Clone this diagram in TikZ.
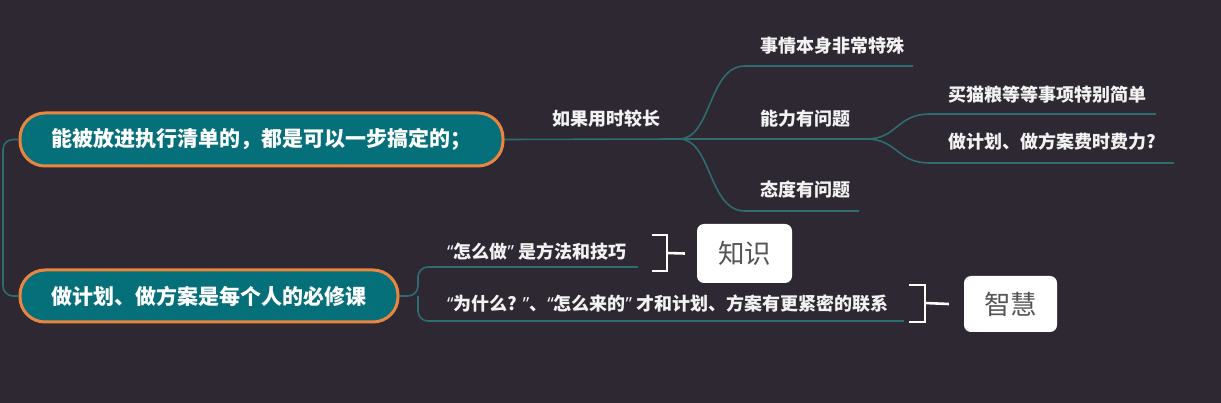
\documentclass[tikz,border=0pt]{standalone}
\usepackage{fontspec}
\setmainfont{Noto Sans CJK SC}
\newfontfamily\quotefont{Noto Sans}
\newcommand{\openq}{{\quotefont “}}
\newcommand{\closeq}{{\quotefont ”}}
\definecolor{bg}{HTML}{2D2832}
\definecolor{topicfill}{HTML}{06707A}
\definecolor{topicline}{HTML}{E9853F}
\definecolor{branchline}{HTML}{2F6C6F}
\definecolor{boxtext}{HTML}{555555}
\begin{document}
\begin{tikzpicture}[x=1pt, y=-1pt,
  topic/.style={draw=topicline, fill=topicfill, line width=3pt, rounded corners=25pt, text=white, font=\fontsize{21}{22}\selectfont\bfseries, inner sep=0pt},
  branch/.style={draw=branchline, line width=1.6pt},
  leaf/.style={anchor=west, text=white!95!black, font=\fontsize{18}{19}\selectfont\bfseries, inner sep=0pt},
  note/.style={anchor=west, text=white!95!black, font=\fontsize{18}{19}\selectfont\bfseries, inner sep=0pt},
  brace/.style={draw=white, line width=2.6pt},
  tag/.style={fill=white, rounded corners=7pt, text=boxtext, font=\fontsize{26.5}{27}\selectfont, inner sep=0pt}]
\fill[bg] (0,0) rectangle (1221,403);
\useasboundingbox (0,0) rectangle (1221,403);

\node[topic, minimum width=483, minimum height=53] (list) at (261.5,139.5) {能被放进执行清单的，都是可以一步搞定的；};
\node[topic, minimum width=378, minimum height=52] (course) at (209,296) {做计划、做方案是每个人的必修课};

\coordinate (root) at (3,218);
\draw[branch, rounded corners=10pt] (list.west) -| (root) |- (course.west);

\node[leaf] (long) at (552,119) {如果用时较长};
\node[leaf] (special) at (760,46) {事情本身非常特殊};
\node[leaf] (ability) at (760,119) {能力有问题};
\node[leaf] (attitude) at (760,190) {态度有问题};
\node[leaf] (simple) at (948,95) {买猫粮等等事项特别简单};
\node[leaf] (effort) at (948,142) {做计划、做方案费时费力?};

\coordinate (fork1) at (679,139);
\coordinate (fork2) at (866,139);
\draw[branch] (list.east) -- (fork1) -- (fork2);
\draw[branch] (fork1) .. controls (712,139) and (708,66) .. (745,66) -- (913,66);
\draw[branch] (fork1) .. controls (712,139) and (708,211) .. (745,211) -- (859,211);
\draw[branch] (fork2) .. controls (898,139) and (896,114) .. (930,114) -- (1156,114);
\draw[branch] (fork2) .. controls (898,139) and (896,163) .. (930,163) -- (1174,163);

\node[note] (how) at (447,252) {\openq 怎么做\closeq\ 是方法和技巧};
\node[note] (why) at (447,304) {\openq 为什么? \closeq、\openq 怎么来的\closeq\ 才和计划、方案有更紧密的联系};

\coordinate (fork3) at (418,296);
\draw[branch, rounded corners=10pt] (course.east) -- (fork3) |- (638,267);
\draw[branch, rounded corners=10pt] (fork3) |- (904,321);

\node[tag, minimum width=95, minimum height=59] (know) at (744.5,253.5) {知识};
\node[tag, minimum width=93, minimum height=56] (wise) at (1010.5,304) {智慧};

\draw[brace] (652,235) -- (667,235) -- (667,271) -- (652,271);
\draw[brace] (667,253) -- ([xshift=-12pt]know.west);
\draw[brace] (909,285) -- (925,285) -- (925,322) -- (909,322);
\draw[brace] (925,303) -- ([xshift=-15pt]wise.west);
\end{tikzpicture}
\end{document}
